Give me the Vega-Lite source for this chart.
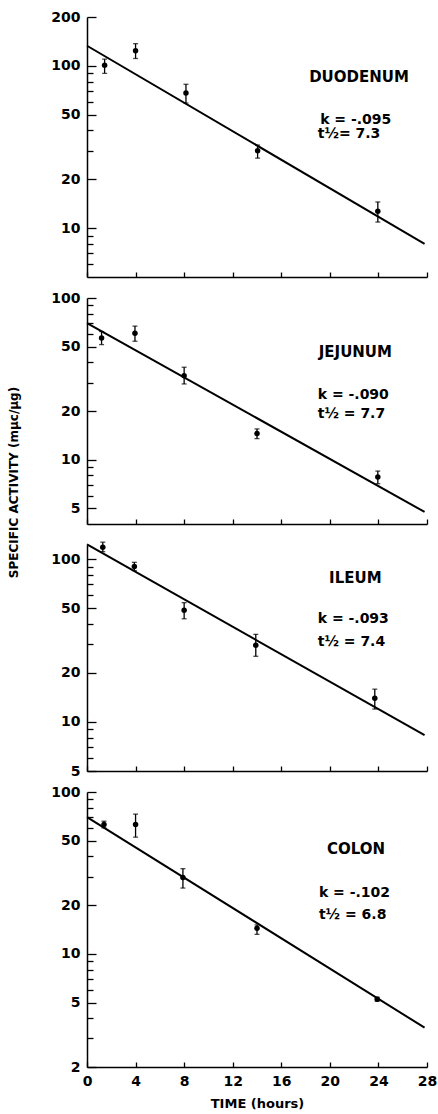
{
  "$schema": "https://vega.github.io/schema/vega-lite/v6.json",
  "background": "white",
  "padding": {"left": 7, "top": 10, "right": 5, "bottom": 5},
  "spacing": 21,
  "bounds": "flush",
  "datasets": {
    "pts": [
      {"p": "D", "t": 1.45, "v": 101, "lo": 90, "hi": 110},
      {"p": "D", "t": 4, "v": 124, "lo": 111, "hi": 137},
      {"p": "D", "t": 8.15, "v": 68, "lo": 59, "hi": 77},
      {"p": "D", "t": 14.05, "v": 30, "lo": 27, "hi": 32.5},
      {"p": "D", "t": 23.95, "v": 12.7, "lo": 10.9, "hi": 14.5},
      {"p": "J", "t": 1.2, "v": 56.5, "lo": 51.5, "hi": 62},
      {"p": "J", "t": 3.95, "v": 60.5, "lo": 54, "hi": 67},
      {"p": "J", "t": 8, "v": 33, "lo": 29.4, "hi": 37.3},
      {"p": "J", "t": 14, "v": 14.5, "lo": 13.5, "hi": 15.5},
      {"p": "J", "t": 23.95, "v": 7.8, "lo": 7.1, "hi": 8.5},
      {"p": "I", "t": 1.3, "v": 118, "lo": 111, "hi": 127},
      {"p": "I", "t": 3.9, "v": 90, "lo": 85, "hi": 95.5},
      {"p": "I", "t": 8, "v": 48.5, "lo": 43, "hi": 54},
      {"p": "I", "t": 13.9, "v": 29.6, "lo": 25.3, "hi": 34.5},
      {"p": "I", "t": 23.7, "v": 14, "lo": 12, "hi": 15.9},
      {"p": "C", "t": 1.4, "v": 63, "lo": 60, "hi": 66},
      {"p": "C", "t": 4, "v": 63, "lo": 52.6, "hi": 73},
      {"p": "C", "t": 7.9, "v": 29.6, "lo": 25.5, "hi": 33.6},
      {"p": "C", "t": 14, "v": 14.4, "lo": 13.2, "hi": 15.1},
      {"p": "C", "t": 23.9, "v": 5.25, "lo": 5.1, "hi": 5.4}
    ],
    "fit": [
      {"p": "D", "t": 0, "v": 133},
      {"p": "D", "t": 27.8, "v": 8},
      {"p": "J", "t": 0, "v": 70},
      {"p": "J", "t": 27.8, "v": 4.75},
      {"p": "I", "t": 0, "v": 123},
      {"p": "I", "t": 27.8, "v": 8.3},
      {"p": "C", "t": 0, "v": 70},
      {"p": "C", "t": 27.8, "v": 3.5}
    ],
    "lbl": [
      {"p": "D", "kind": "name", "t": 22.4, "v": 85, "text": "DUODENUM"},
      {"p": "D", "kind": "stat", "t": 19.2, "v": 46.5, "text": "k = -.095"},
      {"p": "D", "kind": "stat", "t": 19.0, "v": 37.9, "text": "t½= 7.3"},
      {"p": "J", "kind": "name", "t": 22.1, "v": 46.1, "text": "JEJUNUM"},
      {"p": "J", "kind": "stat", "t": 19.0, "v": 25.2, "text": "k = -.090"},
      {"p": "J", "kind": "stat", "t": 19.0, "v": 19.2, "text": "t½ = 7.7"},
      {"p": "I", "kind": "name", "t": 22.1, "v": 76.9, "text": "ILEUM"},
      {"p": "I", "kind": "stat", "t": 19.0, "v": 42.8, "text": "k = -.093"},
      {"p": "I", "kind": "stat", "t": 19.0, "v": 31.1, "text": "t½ = 7.4"},
      {"p": "C", "kind": "name", "t": 22.15, "v": 44.2, "text": "COLON"},
      {"p": "C", "kind": "stat", "t": 19.1, "v": 23.7, "text": "k = -.102"},
      {"p": "C", "kind": "stat", "t": 19.1, "v": 17.4, "text": "t½ = 6.8"}
    ]
  },
  "vconcat": [
    {
      "width": 340, "height": 260,
      "encoding": {
        "x": {"field": "t", "type": "quantitative", "scale": {"domain": [0, 28], "nice": false, "zero": false},
              "axis": {"values": [0,4,8,12,16,20,24,28], "labels": false, "title": null, "tickSize": -5}},
        "y": {"field": "v", "type": "quantitative", "scale": {"type": "log", "domain": [5, 200], "nice": false},
              "axis": {"values": [200,100,90,80,70,60,50,40,30,20,10,9,8,7,6], "title": null,
                       "labelExpr": "indexof([2,5,10,20,50,100,200], datum.value) >= 0 ? '' + datum.value : ''",
                       "tickSize": {"condition": {"test": "indexof([2,5,10,20,50,100,200], datum.value) >= 0", "value": -9}, "value": -6}}}
      },
      "layer": [
        {"data": {"name": "fit"}, "transform": [{"filter": "datum.p == 'D'"}], "mark": {"type": "line", "color": "black", "strokeWidth": 2}},
        {"data": {"name": "pts"}, "transform": [{"filter": "datum.p == 'D'"}], "mark": {"type": "rule", "color": "black", "strokeWidth": 1.3},
         "encoding": {"y": {"field": "lo", "type": "quantitative"}, "y2": {"field": "hi"}}},
        {"data": {"name": "pts"}, "transform": [{"filter": "datum.p == 'D'"}], "mark": {"type": "tick", "orient": "horizontal", "color": "black", "size": 5, "thickness": 1.3},
         "encoding": {"y": {"field": "lo", "type": "quantitative"}}},
        {"data": {"name": "pts"}, "transform": [{"filter": "datum.p == 'D'"}], "mark": {"type": "tick", "orient": "horizontal", "color": "black", "size": 5, "thickness": 1.3},
         "encoding": {"y": {"field": "hi", "type": "quantitative"}}},
        {"data": {"name": "pts"}, "transform": [{"filter": "datum.p == 'D'"}], "mark": {"type": "circle", "color": "black", "size": 30, "opacity": 1}},
        {"data": {"name": "lbl"}, "transform": [{"filter": "datum.p == 'D' && datum.kind == 'name'"}], "mark": {"type": "text", "align": "center", "baseline": "middle", "font": "DejaVu Sans", "fontWeight": "bold", "fontSize": 15, "color": "black"},
         "encoding": {"text": {"field": "text"}}},
        {"data": {"name": "lbl"}, "transform": [{"filter": "datum.p == 'D' && datum.kind == 'stat'"}], "mark": {"type": "text", "align": "left", "baseline": "middle", "font": "DejaVu Sans", "fontWeight": "bold", "fontSize": 14, "color": "black"},
         "encoding": {"text": {"field": "text"}}}
      ]
    },
    {
      "width": 340, "height": 226,
      "encoding": {
        "x": {"field": "t", "type": "quantitative", "scale": {"domain": [0, 28], "nice": false, "zero": false},
              "axis": {"values": [0,4,8,12,16,20,24,28], "labels": false, "title": null, "tickSize": -5}},
        "y": {"field": "v", "type": "quantitative", "scale": {"type": "log", "domain": [4, 100], "nice": false},
              "axis": {"values": [100,90,80,70,60,50,40,30,20,10,9,8,7,6,5],
                       "title": "SPECIFIC ACTIVITY (mμc/μg)", "titleX": -74, "titleY": 184, "titleAngle": 270, "titleAlign": "center", "titleBaseline": "middle",
                       "labelExpr": "indexof([2,5,10,20,50,100,200], datum.value) >= 0 ? '' + datum.value : ''",
                       "tickSize": {"condition": {"test": "indexof([2,5,10,20,50,100,200], datum.value) >= 0", "value": -9}, "value": -6}}}
      },
      "layer": [
        {"data": {"name": "fit"}, "transform": [{"filter": "datum.p == 'J'"}], "mark": {"type": "line", "color": "black", "strokeWidth": 2}},
        {"data": {"name": "pts"}, "transform": [{"filter": "datum.p == 'J'"}], "mark": {"type": "rule", "color": "black", "strokeWidth": 1.3},
         "encoding": {"y": {"field": "lo", "type": "quantitative"}, "y2": {"field": "hi"}}},
        {"data": {"name": "pts"}, "transform": [{"filter": "datum.p == 'J'"}], "mark": {"type": "tick", "orient": "horizontal", "color": "black", "size": 5, "thickness": 1.3},
         "encoding": {"y": {"field": "lo", "type": "quantitative"}}},
        {"data": {"name": "pts"}, "transform": [{"filter": "datum.p == 'J'"}], "mark": {"type": "tick", "orient": "horizontal", "color": "black", "size": 5, "thickness": 1.3},
         "encoding": {"y": {"field": "hi", "type": "quantitative"}}},
        {"data": {"name": "pts"}, "transform": [{"filter": "datum.p == 'J'"}], "mark": {"type": "circle", "color": "black", "size": 30, "opacity": 1}},
        {"data": {"name": "lbl"}, "transform": [{"filter": "datum.p == 'J' && datum.kind == 'name'"}], "mark": {"type": "text", "align": "center", "baseline": "middle", "font": "DejaVu Sans", "fontWeight": "bold", "fontSize": 15, "color": "black"},
         "encoding": {"text": {"field": "text"}}},
        {"data": {"name": "lbl"}, "transform": [{"filter": "datum.p == 'J' && datum.kind == 'stat'"}], "mark": {"type": "text", "align": "left", "baseline": "middle", "font": "DejaVu Sans", "fontWeight": "bold", "fontSize": 14, "color": "black"},
         "encoding": {"text": {"field": "text"}}}
      ]
    },
    {
      "width": 340, "height": 226,
      "encoding": {
        "x": {"field": "t", "type": "quantitative", "scale": {"domain": [0, 28], "nice": false, "zero": false},
              "axis": {"values": [0,4,8,12,16,20,24,28], "labels": false, "title": null, "tickSize": -5}},
        "y": {"field": "v", "type": "quantitative", "scale": {"type": "log", "domain": [5, 122], "nice": false},
              "axis": {"values": [100,90,80,70,60,50,40,30,20,10,9,8,7,6,5], "title": null,
                       "labelExpr": "indexof([2,5,10,20,50,100,200], datum.value) >= 0 ? '' + datum.value : ''",
                       "tickSize": {"condition": {"test": "indexof([2,5,10,20,50,100,200], datum.value) >= 0", "value": -9}, "value": -6}}}
      },
      "layer": [
        {"data": {"name": "fit"}, "transform": [{"filter": "datum.p == 'I'"}], "mark": {"type": "line", "color": "black", "strokeWidth": 2}},
        {"data": {"name": "pts"}, "transform": [{"filter": "datum.p == 'I'"}], "mark": {"type": "rule", "color": "black", "strokeWidth": 1.3},
         "encoding": {"y": {"field": "lo", "type": "quantitative"}, "y2": {"field": "hi"}}},
        {"data": {"name": "pts"}, "transform": [{"filter": "datum.p == 'I'"}], "mark": {"type": "tick", "orient": "horizontal", "color": "black", "size": 5, "thickness": 1.3},
         "encoding": {"y": {"field": "lo", "type": "quantitative"}}},
        {"data": {"name": "pts"}, "transform": [{"filter": "datum.p == 'I'"}], "mark": {"type": "tick", "orient": "horizontal", "color": "black", "size": 5, "thickness": 1.3},
         "encoding": {"y": {"field": "hi", "type": "quantitative"}}},
        {"data": {"name": "pts"}, "transform": [{"filter": "datum.p == 'I'"}], "mark": {"type": "circle", "color": "black", "size": 30, "opacity": 1}},
        {"data": {"name": "lbl"}, "transform": [{"filter": "datum.p == 'I' && datum.kind == 'name'"}], "mark": {"type": "text", "align": "center", "baseline": "middle", "font": "DejaVu Sans", "fontWeight": "bold", "fontSize": 15, "color": "black"},
         "encoding": {"text": {"field": "text"}}},
        {"data": {"name": "lbl"}, "transform": [{"filter": "datum.p == 'I' && datum.kind == 'stat'"}], "mark": {"type": "text", "align": "left", "baseline": "middle", "font": "DejaVu Sans", "fontWeight": "bold", "fontSize": 14, "color": "black"},
         "encoding": {"text": {"field": "text"}}}
      ]
    },
    {
      "width": 340, "height": 275,
      "encoding": {
        "x": {"field": "t", "type": "quantitative", "scale": {"domain": [0, 28], "nice": false, "zero": false},
              "axis": {"values": [0,4,8,12,16,20,24,28], "title": "TIME (hours)", "tickSize": -5, "labelPadding": 12, "titlePadding": 9}},
        "y": {"field": "v", "type": "quantitative", "scale": {"type": "log", "domain": [2, 100], "nice": false},
              "axis": {"values": [100,90,80,70,60,50,40,30,20,10,9,8,7,6,5,4,3,2], "title": null,
                       "labelExpr": "indexof([2,5,10,20,50,100,200], datum.value) >= 0 ? '' + datum.value : ''",
                       "tickSize": {"condition": {"test": "indexof([2,5,10,20,50,100,200], datum.value) >= 0", "value": -9}, "value": -6}}}
      },
      "layer": [
        {"data": {"name": "fit"}, "transform": [{"filter": "datum.p == 'C'"}], "mark": {"type": "line", "color": "black", "strokeWidth": 2}},
        {"data": {"name": "pts"}, "transform": [{"filter": "datum.p == 'C'"}], "mark": {"type": "rule", "color": "black", "strokeWidth": 1.3},
         "encoding": {"y": {"field": "lo", "type": "quantitative"}, "y2": {"field": "hi"}}},
        {"data": {"name": "pts"}, "transform": [{"filter": "datum.p == 'C'"}], "mark": {"type": "tick", "orient": "horizontal", "color": "black", "size": 5, "thickness": 1.3},
         "encoding": {"y": {"field": "lo", "type": "quantitative"}}},
        {"data": {"name": "pts"}, "transform": [{"filter": "datum.p == 'C'"}], "mark": {"type": "tick", "orient": "horizontal", "color": "black", "size": 5, "thickness": 1.3},
         "encoding": {"y": {"field": "hi", "type": "quantitative"}}},
        {"data": {"name": "pts"}, "transform": [{"filter": "datum.p == 'C'"}], "mark": {"type": "circle", "color": "black", "size": 30, "opacity": 1}},
        {"data": {"name": "lbl"}, "transform": [{"filter": "datum.p == 'C' && datum.kind == 'name'"}], "mark": {"type": "text", "align": "center", "baseline": "middle", "font": "DejaVu Sans", "fontWeight": "bold", "fontSize": 15, "color": "black"},
         "encoding": {"text": {"field": "text"}}},
        {"data": {"name": "lbl"}, "transform": [{"filter": "datum.p == 'C' && datum.kind == 'stat'"}], "mark": {"type": "text", "align": "left", "baseline": "middle", "font": "DejaVu Sans", "fontWeight": "bold", "fontSize": 14, "color": "black"},
         "encoding": {"text": {"field": "text"}}}
      ]
    }
  ],
  "config": {
    "view": {"stroke": null},
    "font": "DejaVu Sans",
    "axis": {
      "grid": false,
      "domainColor": "black", "domainWidth": 1.5,
      "tickColor": "black", "tickWidth": 1.3,
      "labelFont": "DejaVu Sans", "labelFontWeight": "bold", "labelFontSize": 14, "labelColor": "black",
      "labelPadding": 16, "labelOverlap": false, "labelFlush": false,
      "titleFont": "DejaVu Sans", "titleFontWeight": "bold", "titleFontSize": 12, "titleColor": "black"
    },
    "axisX": {"labelFontSize": 14, "titleFontSize": 13}
  }
}
